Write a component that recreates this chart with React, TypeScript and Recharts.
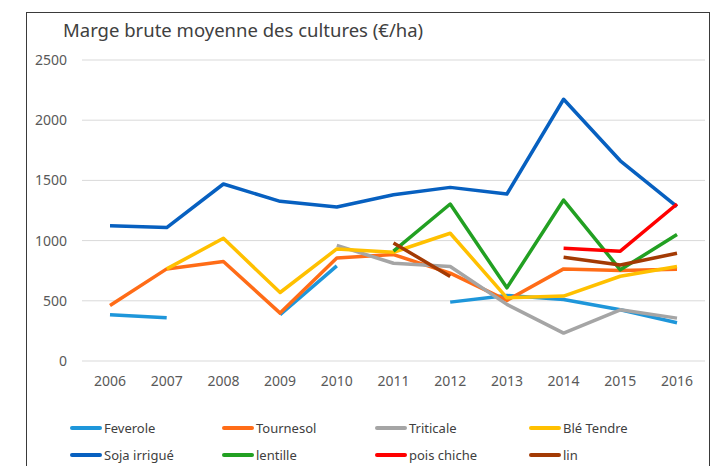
import React from "react";
import { LineChart, Line, XAxis, YAxis, CartesianGrid } from "recharts";

const years = ["2006", "2007", "2008", "2009", "2010", "2011", "2012", "2013", "2014", "2015", "2016"];
const yTicks = [0, 500, 1000, 1500, 2000, 2500];

const feverole = [384, 359, null, 384, 790, null, 489, 544, 511, 425, 318];
const tournesol = [461, 765, 826, 398, 856, 884, 730, 503, 765, 751, 762];
const triticale = [null, null, null, null, 961, 812, 785, 470, 232, 425, 356];
const bleTendre = [null, 765, 1019, 569, 931, 903, 1061, 525, 539, 704, 785];
const sojaIrrigue = [1124, 1108, 1470, 1326, 1279, 1381, 1442, 1387, 2174, 1663, 1282];
const lentille = [null, null, null, null, null, 912, 1304, 608, 1337, 757, 1050];
const poisChiche = [null, null, null, null, null, null, null, null, 936, 912, 1304];
const lin = [null, null, null, null, null, 981, 702, null, 862, 798, 895];

const series = [
  { key: "feverole", name: "Feverole", color: "#1E96DA", values: feverole },
  { key: "tournesol", name: "Tournesol", color: "#FF6C17", values: tournesol },
  { key: "triticale", name: "Triticale", color: "#A5A5A5", values: triticale },
  { key: "ble", name: "Blé Tendre", color: "#FFC000", values: bleTendre },
  { key: "soja", name: "Soja irrigué", color: "#0760C0", values: sojaIrrigue },
  { key: "lentille", name: "lentille", color: "#22A022", values: lentille },
  { key: "pois", name: "pois chiche", color: "#FF0000", values: poisChiche },
  { key: "lin", name: "lin", color: "#A33A04", values: lin },
];

const data = years.map((year, i) => {
  const row: Record<string, string | number | null> = { year };
  series.forEach((s) => {
    row[s.key] = s.values[i];
  });
  return row;
});

const FONT = "'Noto Sans', sans-serif";
const legendCols = [70, 222, 375, 529];
const legendRows = [428, 455];

export default function App() {
  return (
    <div style={{ position: "absolute", left: 0, top: 0, width: 726, height: 466, background: "#fff", overflow: "hidden", fontFamily: FONT }}>
      <div style={{ position: "absolute", left: 26, top: 12, width: 684, height: 470, border: "1px solid #3a3a3a", boxSizing: "border-box" }} />
      <div style={{ position: "absolute", left: 63, top: 17, fontSize: 18.5, color: "#404040", whiteSpace: "nowrap" }}>
        Marge brute moyenne des cultures (€/ha)
      </div>
      <div style={{ position: "absolute", left: 0, top: 0 }}>
        <LineChart width={726} height={466} data={data} margin={{ top: 60, right: 21, bottom: 75, left: 0 }}>
          <CartesianGrid vertical={false} stroke="#D9D9D9" strokeWidth={1} />
          <XAxis
            dataKey="year"
            axisLine={false}
            tickLine={false}
            tickSize={0}
            tickMargin={15}
            height={30}
            interval={0}
            padding={{ left: 28, right: 28 }}
            tick={{ fill: "#595959", fontSize: 14, fontFamily: FONT }}
          />
          <YAxis
            domain={[0, 2500]}
            ticks={yTicks}
            axisLine={false}
            tickLine={false}
            tickSize={0}
            tickMargin={15}
            width={82}
            tick={{ fill: "#595959", fontSize: 14, fontFamily: FONT }}
          />
          {series.map((s) => (
            <Line
              key={s.key}
              type="linear"
              dataKey={s.key}
              name={s.name}
              stroke={s.color}
              strokeWidth={3.5}
              dot={false}
              activeDot={false}
              strokeLinejoin="round"
              isAnimationActive={false}
            />
          ))}
        </LineChart>
      </div>
      {series.map((s, i) => (
        <div
          key={s.key}
          style={{
            position: "absolute",
            left: legendCols[i % 4],
            top: legendRows[Math.floor(i / 4)] - 10,
            height: 20,
            display: "flex",
            alignItems: "center",
            fontSize: 13,
            color: "#404040",
            whiteSpace: "nowrap",
          }}
        >
          <span style={{ display: "inline-block", width: 32, height: 4, borderRadius: 2, background: s.color, marginRight: 2 }} />
          {s.name}
        </div>
      ))}
    </div>
  );
}
